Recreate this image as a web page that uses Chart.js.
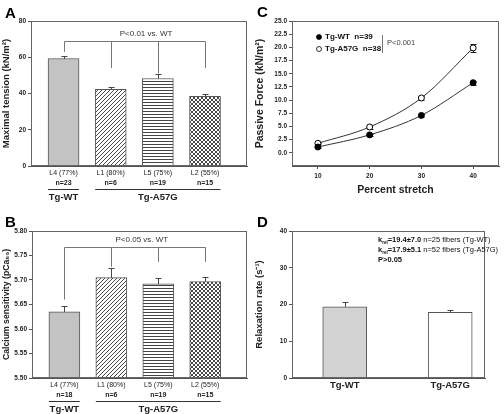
<!DOCTYPE html>
<html>
<head>
<meta charset="utf-8">
<script src="https://cdn.jsdelivr.net/npm/chart.js@4/dist/chart.umd.min.js"></script>
<style>
  body { margin: 0; background: #fff; }
  .panel { position: absolute; }
</style>
</head>
<body>
<canvas id="chartA" class="panel" width="252" height="207" style="left:0;top:0"></canvas>
<canvas id="chartB" class="panel" width="252" height="207" style="left:0;top:207px"></canvas>
<canvas id="chartC" class="panel" width="252" height="207" style="left:252px;top:0"></canvas>
<canvas id="chartD" class="panel" width="252" height="207" style="left:252px;top:207px"></canvas>
<script>
// panel A / B categories
const lines = ["L4 (77%)", "L1 (80%)", "L5 (75%)", "L2 (55%)"];
const groups = ["Tg-WT", "Tg-A57G"];
const groupSpans = [[1, 1], [2, 4]];

const nA = ["n=23", "n=6", "n=19", "n=15"];
const tensionA = [59.3, 42.3, 48.3, 38.4];
const tensionErrA = [1.2, 1.1, 2.2, 1.4];
const bracketEndsA = [63, 54, 51, 54];

const nB = ["n=18", "n=6", "n=19", "n=15"];
const pcaB = [5.635, 5.705, 5.692, 5.697];
const pcaErrB = [0.012, 0.02, 0.013, 0.01];
const bracketEndsB = [5.66, 5.727, 5.737, 5.737];

// panel C
const stretchC = [10, 20, 30, 40];
const wtC = [1.1, 3.4, 7.1, 13.3];
const wtErrC = [0.1, 0.15, 0.3, 0.4];
const mutC = [1.8, 4.9, 10.4, 19.9];
const mutErrC = [0.15, 0.3, 0.4, 0.8];

// panel D
const catD = ["Tg-WT", "Tg-A57G"];
const krelD = [19.4, 17.9];
const krelErrD = [1.2, 0.5];

const FONT = '"Liberation Sans", Arial, sans-serif';
Chart.defaults.font.family = FONT;
Chart.defaults.color = '#222';
Chart.defaults.animation = false;
Chart.defaults.plugins.legend.display = false;
Chart.defaults.plugins.tooltip.enabled = false;

function makePattern(kind) {
    const s = kind === 'horiz' ? 3 : 4;
    const c = document.createElement('canvas');
    c.width = s; c.height = s;
    const g = c.getContext('2d');
    g.fillStyle = '#fff';
    g.fillRect(0, 0, s, s);
    g.strokeStyle = '#333';
    g.lineWidth = 0.9;
    if (kind === 'horiz') {
        g.fillStyle = '#444';
        g.fillRect(0, 0, s, 1);
    } else {
        g.beginPath();
        g.moveTo(-1, s + 1); g.lineTo(s + 1, -1);
        g.moveTo(-1, 1); g.lineTo(1, -1);
        g.moveTo(s - 1, s + 1); g.lineTo(s + 1, s - 1);
        if (kind === 'cross') {
            g.moveTo(-1, -1); g.lineTo(s + 1, s + 1);
            g.moveTo(s - 1, -1); g.lineTo(s + 1, 1);
            g.moveTo(-1, s - 1); g.lineTo(1, s + 1);
        }
        g.stroke();
    }
    return g.createPattern(c, 'repeat');
}
const barFills = ['#c3c3c3', makePattern('diag'), makePattern('horiz'), makePattern('cross')];

const framePlugin = {
    id: 'frame',
    afterDraw(chart) {
        const { ctx, chartArea: a } = chart;
        ctx.save();
        ctx.strokeStyle = '#666';
        ctx.lineWidth = 1;
        ctx.strokeRect(Math.round(a.left) + 0.5, Math.round(a.top) + 0.5,
            Math.round(a.right - a.left) - 1, Math.round(a.bottom - a.top) - 1);
        ctx.restore();
    }
};

const letterPlugin = {
    id: 'letter',
    afterDraw(chart, args, o) {
        const ctx = chart.ctx;
        ctx.save();
        ctx.fillStyle = '#000';
        ctx.font = 'bold 15px ' + FONT;
        ctx.textBaseline = 'top';
        ctx.fillText(o.text, o.x, o.y);
        ctx.restore();
    }
};

const errorPlugin = {
    id: 'errbars',
    beforeDatasetsDraw(chart, args, o) {
        const { ctx } = chart;
        const ys = chart.scales.y;
        ctx.save();
        ctx.strokeStyle = o.color;
        ctx.lineWidth = 1;
        chart.data.datasets.forEach((ds, di) => {
            const errs = o.errors[di];
            chart.getDatasetMeta(di).data.forEach((el, i) => {
                const v = ds.data[i].y, e = errs[i];
                const x = Math.round(el.x) + 0.5;
                const yTop = Math.round(ys.getPixelForValue(v + e)) + 0.5;
                const yBot = Math.round(ys.getPixelForValue(o.both ? v - e : v)) + 0.5;
                ctx.beginPath();
                ctx.moveTo(x, yBot); ctx.lineTo(x, yTop);
                ctx.moveTo(x - o.cap, yTop); ctx.lineTo(x + o.cap, yTop);
                if (o.both) { ctx.moveTo(x - o.cap, yBot); ctx.lineTo(x + o.cap, yBot); }
                ctx.stroke();
            });
        });
        ctx.restore();
    }
};

const bracketPlugin = {
    id: 'bracket',
    afterDatasetsDraw(chart, args, o) {
        const { ctx, scales: { x, y } } = chart;
        const yl = Math.round(y.getPixelForValue(o.level)) + 0.5;
        const xs = o.ends.map((v, i) => Math.round(x.getPixelForValue(i + 1)) + 0.5);
        ctx.save();
        ctx.strokeStyle = '#777';
        ctx.lineWidth = 1;
        ctx.beginPath();
        ctx.moveTo(xs[0], yl); ctx.lineTo(xs[xs.length - 1], yl);
        xs.forEach((px, i) => { ctx.moveTo(px, yl); ctx.lineTo(px, y.getPixelForValue(o.ends[i])); });
        ctx.stroke();
        ctx.fillStyle = '#333';
        ctx.font = '8px ' + FONT;
        ctx.textAlign = 'center';
        ctx.textBaseline = 'middle';
        ctx.fillText(o.text, x.getPixelForValue(o.textX), yl - 8);
        ctx.restore();
    }
};

const groupPlugin = {
    id: 'groups',
    afterDraw(chart, args, o) {
        const { ctx, chartArea: a, scales: { x } } = chart;
        const half = o.barW / 2;
        ctx.save();
        ctx.fillStyle = '#222';
        ctx.textAlign = 'center';
        ctx.textBaseline = 'middle';
        ctx.font = 'bold 7px ' + FONT;
        o.counts.forEach((t, i) => ctx.fillText(t, x.getPixelForValue(i + 1), a.bottom + 17));
        ctx.strokeStyle = '#333';
        ctx.lineWidth = 1;
        groupSpans.forEach(([s, e], gi) => {
            const x0 = x.getPixelForValue(s) - half, x1 = x.getPixelForValue(e) + half;
            ctx.beginPath();
            ctx.moveTo(x0, a.bottom + 23.5); ctx.lineTo(x1, a.bottom + 23.5);
            ctx.stroke();
            ctx.font = 'bold 9.5px ' + FONT;
            ctx.fillText(groups[gi], (x0 + x1) / 2, a.bottom + 31);
        });
        ctx.restore();
    }
};

function barPanel(id, cfg) {
    return new Chart(document.getElementById(id), {
        type: 'bar',
        data: {
            datasets: [{
                data: cfg.values.map((v, i) => ({ x: i + 1, y: v })),
                backgroundColor: barFills,
                borderColor: '#555',
                borderWidth: 1,
                barThickness: 31
            }]
        },
        options: {
            responsive: false,
            layout: { padding: { top: cfg.top, right: 5, left: 0, bottom: 0 } },
            scales: {
                x: {
                    type: 'linear', min: 0.31, max: 4.89, offset: false,
                    afterBuildTicks: s => { s.ticks = lines.map((c, i) => ({ value: i + 1 })); },
                    ticks: { callback: v => lines[v - 1], font: { size: 7 }, padding: 3, maxRotation: 0, autoSkip: false },
                    grid: { display: false, drawTicks: false, tickLength: 0 },
                    border: { color: '#555' },
                    afterFit: s => { s.height = cfg.bottom; }
                },
                y: {
                    min: cfg.min, max: cfg.max,
                    ticks: { stepSize: cfg.step, font: { size: 6.5, weight: 'bold' }, padding: 2,
                        callback: v => cfg.dec ? v.toFixed(cfg.dec) : v },
                    grid: { drawOnChartArea: false, tickLength: 3, color: '#555' },
                    border: { color: '#555' },
                    title: { display: true, text: cfg.title, font: { size: cfg.titleSize, weight: 'bold' }, padding: { top: 1, bottom: 0 } },
                    afterFit: s => { s.width = cfg.left; }
                }
            },
            plugins: {
                letter: { text: cfg.letter, x: 5, y: cfg.letterY },
                errbars: { errors: [cfg.errors], color: '#444', cap: 3, both: false },
                bracket: cfg.bracket,
                groups: { counts: cfg.counts, barW: 31 }
            }
        },
        plugins: [errorPlugin, bracketPlugin, framePlugin, groupPlugin, letterPlugin]
    });
}

barPanel('chartA', {
    values: tensionA, errors: tensionErrA, counts: nA,
    min: 0, max: 80, step: 20, dec: 0,
    title: 'Maximal tension (kN/m²)', titleSize: 9.5, letter: 'A', letterY: 6,
    top: 21, bottom: 41, left: 31,
    bracket: { level: 69, ends: bracketEndsA, text: 'P<0.01 vs. WT', textX: 2.75 }
});

barPanel('chartB', {
    values: pcaB, errors: pcaErrB, counts: nB,
    min: 5.5, max: 5.8, step: 0.05, dec: 2,
    title: 'Calcium sensitivity (pCa₅₀)', titleSize: 8.7, letter: 'B', letterY: 8,
    top: 24, bottom: 36, left: 32,
    bracket: { level: 5.768, ends: bracketEndsB, text: 'P<0.05 vs. WT', textX: 2.65 }
});

// panel C legend
const legendC = {
    id: 'legendC',
    afterDraw(chart) {
        const ctx = chart.ctx;
        ctx.save();
        ctx.font = 'bold 8px ' + FONT;
        ctx.textBaseline = 'middle';
        [['Tg-WT  n=39', '#000', 37], ['Tg-A57G  n=38', '#fff', 49]].forEach(([t, fill, y]) => {
            ctx.beginPath();
            ctx.arc(67, y, 2.5, 0, Math.PI * 2);
            ctx.fillStyle = fill; ctx.fill();
            ctx.strokeStyle = '#000'; ctx.lineWidth = 0.8; ctx.stroke();
            ctx.fillStyle = '#111';
            ctx.fillText(t, 73, y);
        });
        ctx.strokeStyle = '#777';
        ctx.lineWidth = 1;
        ctx.beginPath(); ctx.moveTo(130.5, 35); ctx.lineTo(130.5, 53); ctx.stroke();
        ctx.fillStyle = '#444';
        ctx.font = '7.5px ' + FONT;
        ctx.fillText('P<0.001', 135, 43);
        ctx.restore();
    }
};

new Chart(document.getElementById('chartC'), {
    type: 'scatter',
    data: {
        datasets: [{
            label: 'Tg-WT',
            data: stretchC.map((x, i) => ({ x, y: wtC[i] })),
            showLine: true, cubicInterpolationMode: 'monotone',
            borderColor: '#333', borderWidth: 1,
            pointRadius: 3, pointBackgroundColor: '#000', pointBorderColor: '#000', pointBorderWidth: 1
        }, {
            label: 'Tg-A57G',
            data: stretchC.map((x, i) => ({ x, y: mutC[i] })),
            showLine: true, cubicInterpolationMode: 'monotone',
            borderColor: '#333', borderWidth: 1,
            pointRadius: 3, pointBackgroundColor: '#fff', pointBorderColor: '#000', pointBorderWidth: 1
        }]
    },
    options: {
        responsive: false,
        layout: { padding: { top: 21, right: 2, left: 0, bottom: 0 } },
        scales: {
            x: {
                type: 'linear', min: 5, max: 45,
                afterBuildTicks: s => { s.ticks = stretchC.map(v => ({ value: v })); },
                ticks: { font: { size: 6.5, weight: 'bold' }, padding: 3, maxRotation: 0 },
                grid: { drawOnChartArea: false, tickLength: 3, color: '#555' },
                border: { color: '#555' },
                title: { display: true, text: 'Percent stretch', font: { size: 10.5, weight: 'bold' }, padding: { top: 0, bottom: 11 } },
                afterFit: s => { s.height = 41; }
            },
            y: {
                min: -2.5, max: 25,
                afterBuildTicks: s => { s.ticks = s.ticks.filter(t => t.value >= 0); },
                ticks: { stepSize: 2.5, font: { size: 6.5, weight: 'bold' }, padding: 2, callback: v => v.toFixed(1) },
                grid: { drawOnChartArea: false, tickLength: 3, color: '#555' },
                border: { color: '#555' },
                title: { display: true, text: 'Passive Force (kN/m²)', font: { size: 10.5, weight: 'bold' }, padding: { top: 2, bottom: 0 } },
                afterFit: s => { s.width = 40; }
            }
        },
        plugins: {
            letter: { text: 'C', x: 5, y: 5 },
            errbars: { errors: [wtErrC, mutErrC], color: '#222', cap: 3, both: true }
        }
    },
    plugins: [errorPlugin, framePlugin, legendC, letterPlugin]
});

// panel D annotation
const noteD = {
    id: 'noteD',
    afterDraw(chart) {
        const ctx = chart.ctx;
        ctx.save();
        ctx.fillStyle = '#111';
        ctx.textBaseline = 'middle';
        [['=19.4±7.0', ' n=25 fibers (Tg-WT)', 33], ['=17.9±5.1', ' n=52 fibers (Tg-A57G)', 43]].forEach(([k, t, y]) => {
            ctx.font = 'bold 7.5px ' + FONT;
            ctx.fillText('k', 126, y);
            let x = 126 + ctx.measureText('k').width;
            ctx.font = 'bold 4.5px ' + FONT;
            ctx.fillText('rel', x, y + 2.5);
            x += ctx.measureText('rel').width;
            ctx.font = 'bold 7.5px ' + FONT;
            ctx.fillText(k, x, y);
            x += ctx.measureText(k).width;
            ctx.font = '7.5px ' + FONT;
            ctx.fillText(t, x, y);
        });
        ctx.font = 'bold 7.5px ' + FONT;
        ctx.fillText('P>0.05', 126, 53);
        ctx.restore();
    }
};

new Chart(document.getElementById('chartD'), {
    type: 'bar',
    data: {
        datasets: [{
            data: krelD.map((v, i) => ({ x: i + 1, y: v })),
            backgroundColor: ['#d2d2d2', '#fff'],
            borderColor: '#555',
            borderWidth: 1,
            barThickness: 44
        }]
    },
    options: {
        responsive: false,
        layout: { padding: { top: 24, right: 19, left: 0, bottom: 0 } },
        scales: {
            x: {
                type: 'linear', min: 0.5, max: 2.33, offset: false,
                afterBuildTicks: s => { s.ticks = catD.map((c, i) => ({ value: i + 1 })); },
                ticks: { callback: v => catD[v - 1], font: { size: 9.5, weight: 'bold' }, padding: 2, maxRotation: 0, autoSkip: false },
                grid: { display: false, drawTicks: false, tickLength: 0 },
                border: { color: '#555' },
                afterFit: s => { s.height = 36; }
            },
            y: {
                min: 0, max: 40,
                ticks: { stepSize: 10, font: { size: 6.5, weight: 'bold' }, padding: 2 },
                grid: { drawOnChartArea: false, tickLength: 3, color: '#555' },
                border: { color: '#555' },
                title: { display: true, text: 'Relaxation rate (s⁻¹)', font: { size: 9.5, weight: 'bold' }, padding: { top: 2, bottom: 0 } },
                afterFit: s => { s.width = 40; }
            }
        },
        plugins: {
            letter: { text: 'D', x: 5, y: 8 },
            errbars: { errors: [krelErrD], color: '#444', cap: 3, both: false }
        }
    },
    plugins: [errorPlugin, framePlugin, noteD, letterPlugin]
});
</script>
</body>
</html>
